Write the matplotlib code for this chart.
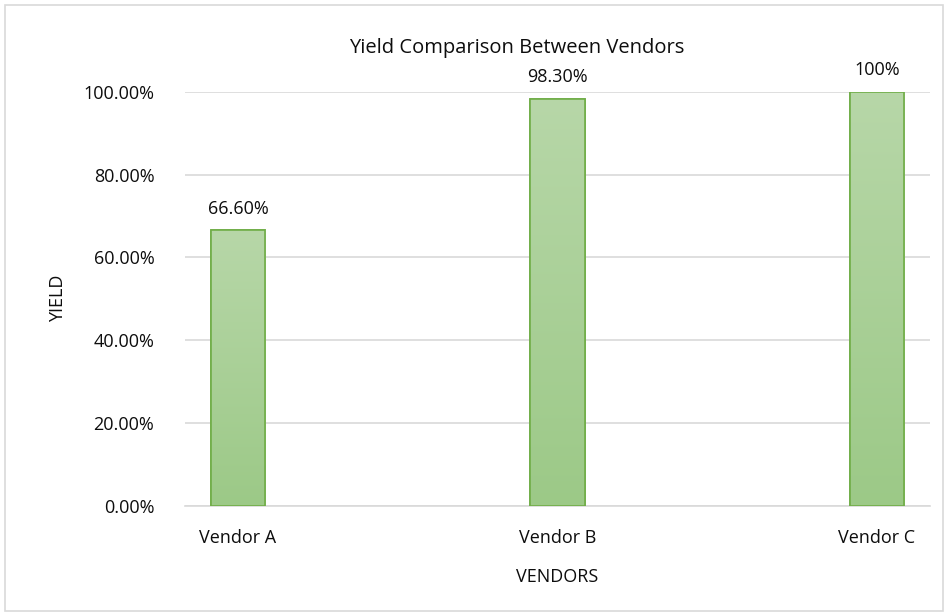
import matplotlib
matplotlib.use("Agg")
import matplotlib.pyplot as plt
import numpy as np
from matplotlib.patches import Rectangle

vendors = ["Vendor A", "Vendor B", "Vendor C"]
yields = [0.666, 0.983, 1.0]
labels = ["66.60%", "98.30%", "100%"]
yticks = [0, 0.2, 0.4, 0.6, 0.8, 1.0]

plt.rcParams["font.family"] = ["Open Sans", "DejaVu Sans"]
txt = "#0d0d0d"

fig = plt.figure(figsize=(9.48, 6.16), dpi=100)
ax = fig.add_axes([0.195, 0.179, 0.786, 0.672])

x = np.arange(len(vendors))
bars = ax.bar(x, yields, width=0.17, color="#a9d096", edgecolor="#70ad47",
              linewidth=1.2, zorder=3)

# vertical gradient in each bar (light top, darker bottom)
grad = np.linspace(0, 1, 256).reshape(-1, 1)
cmap = matplotlib.colors.LinearSegmentedColormap.from_list("g", ["#9cc987", "#b7d7a8"])
for b in bars:
    x0, y0 = b.get_x(), b.get_y()
    w, h = b.get_width(), b.get_height()
    im = ax.imshow(grad, cmap=cmap, aspect="auto", origin="lower",
                   extent=(x0, x0 + w, y0, y0 + h), zorder=3)
    im.set_clip_path(b)
    edge = Rectangle((x0, y0), w, h, fill=False, edgecolor="#70ad47",
                     linewidth=1.2, zorder=4)
    ax.add_patch(edge)

for xi, v, lab in zip(x, yields, labels):
    ax.annotate(lab, (xi, v), xytext=(0, 9), textcoords="offset points",
                ha="center", va="bottom", fontsize=13, color=txt)

ax.set_xlim(-0.166, 2.166)
ax.set_ylim(0, 1.0)
ax.set_yticks(yticks)
ax.set_yticklabels([f"{t*100:.2f}%" for t in yticks])
ax.set_xticks(x)
ax.set_xticklabels(vendors)
ax.tick_params(axis="both", length=0, labelsize=13, labelcolor=txt)
ax.tick_params(axis="y", pad=22)
ax.tick_params(axis="x", pad=17)

ax.grid(axis="y", color="#d9d9d9", linewidth=1.2, zorder=0)
for s in ["top", "right", "left"]:
    ax.spines[s].set_visible(False)
ax.spines["bottom"].set_color("#d9d9d9")
ax.spines["bottom"].set_linewidth(1.2)
ax.set_axisbelow(True)

ax.set_ylabel("YIELD", fontsize=13, color=txt, labelpad=12)
ax.set_xlabel("VENDORS", fontsize=13, color=txt, labelpad=15)
fig.text(0.545, 0.922, "Yield Comparison Between Vendors", ha="center",
         va="center", fontsize=14.5, color=txt)

# chart border
fig.add_artist(Rectangle((0.005, 0.008), 0.99, 0.984, transform=fig.transFigure,
                         fill=False, edgecolor="#d9d9d9", linewidth=1.2))

fig.savefig("out.png", dpi=100)
